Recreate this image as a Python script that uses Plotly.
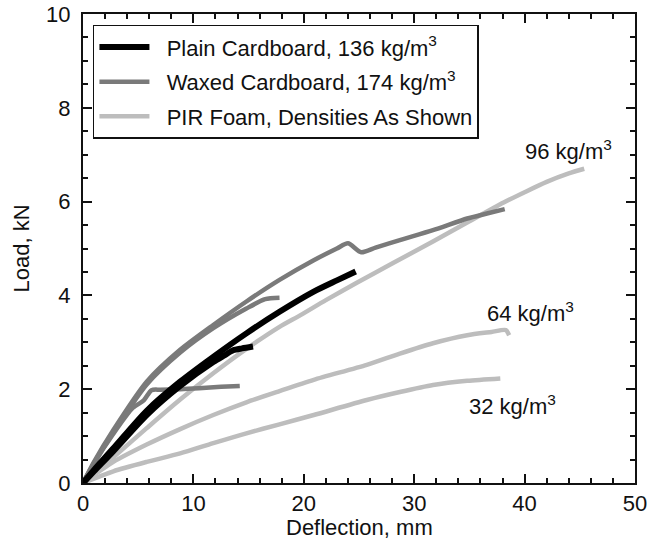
import plotly.graph_objects as go

# Load–deflection curves (deflection in mm, load in kN)
plain_a_x = [0, 1, 2.75, 5.77, 8.8, 11.8, 14.8, 17.8, 20.9, 23.0, 24.7]
plain_a_y = [0, 0.28, 0.74, 1.54, 2.16, 2.69, 3.19, 3.65, 4.08, 4.32, 4.51]
plain_b_x = [0, 1, 2.75, 5.77, 8.8, 11.8, 12.8, 13.6, 14.4, 15.4]
plain_b_y = [0, 0.25, 0.68, 1.45, 2.07, 2.58, 2.72, 2.83, 2.87, 2.91]

waxed_a_x = [0, 1, 2.75, 5.77, 8.8, 11.8, 14.8, 17.8, 20.9, 23.0, 24.0, 25.2, 26.5, 28.7, 31.7, 34.8, 36.5, 38.2]
waxed_a_y = [0, 0.45, 1.13, 2.16, 2.84, 3.37, 3.87, 4.33, 4.75, 5.0, 5.11, 4.92, 5.02, 5.18, 5.39, 5.64, 5.74, 5.84]
waxed_b_x = [0, 1, 2.75, 5.77, 8.8, 11.8, 14.8, 16.5, 17.8]
waxed_b_y = [0, 0.42, 1.08, 2.1, 2.78, 3.3, 3.72, 3.92, 3.95]
waxed_c_x = [0, 1, 2.75, 4.5, 5.5, 6.2, 7.0, 8.8, 10.5, 12.5, 14.2]
waxed_c_y = [0, 0.42, 1.05, 1.6, 1.76, 1.98, 1.99, 2.0, 2.02, 2.05, 2.07]

foam96_x = [0, 2.75, 5.77, 8.8, 11.8, 14.8, 17.8, 19.7, 22.0, 24.8, 28.0, 31.7, 35.0, 38.1, 40.0, 42.0, 44.0, 45.4]
foam96_y = [0, 0.55, 1.17, 1.78, 2.34, 2.86, 3.33, 3.58, 3.9, 4.27, 4.68, 5.15, 5.58, 5.98, 6.2, 6.42, 6.6, 6.7]
foam64_x = [0, 2.75, 5.77, 8.8, 11.8, 14.8, 17.8, 20.9, 25.7, 28.7, 31.7, 34.8, 37.0, 38.3, 38.6]
foam64_y = [0, 0.45, 0.82, 1.15, 1.45, 1.72, 1.96, 2.2, 2.52, 2.76, 2.98, 3.15, 3.22, 3.26, 3.15]
foam32_x = [0, 2.75, 5.77, 8.8, 11.8, 14.8, 17.8, 20.9, 25.7, 28.7, 31.7, 34.8, 37.8]
foam32_y = [0, 0.25, 0.45, 0.63, 0.85, 1.06, 1.25, 1.45, 1.77, 1.94, 2.09, 2.18, 2.23]

series_names = [
    "\u00a0\u00a0Plain Cardboard, 136 kg/m<sup>3</sup>",
    "\u00a0\u00a0Waxed Cardboard, 174 kg/m<sup>3</sup>",
    "\u00a0\u00a0PIR Foam, Densities As Shown",
]
series_colors = ["#000000", "#7a7a7a", "#bdbdbd"]
series_widths = [6, 4.5, 4.5]

density_labels = ["96 kg/m<sup>3</sup>", "64 kg/m<sup>3</sup>", "32 kg/m<sup>3</sup>"]
density_label_x = [44.0, 40.5, 38.9]
density_label_y = [7.1, 3.65, 1.66]

x_title = "Deflection, mm"
y_title = "Load, kN"

FONT = "Liberation Sans, Arial, Helvetica, sans-serif"
INK = "#111111"

groups = [
    (0, [(plain_a_x, plain_a_y), (plain_b_x, plain_b_y)]),
    (1, [(waxed_a_x, waxed_a_y), (waxed_b_x, waxed_b_y), (waxed_c_x, waxed_c_y)]),
    (2, [(foam96_x, foam96_y), (foam64_x, foam64_y), (foam32_x, foam32_y)]),
]

fig = go.Figure()
# foam underneath, waxed above it, plain cardboard on top
for idx, curves in reversed(groups):
    for k, (xs, ys) in enumerate(curves):
        fig.add_trace(go.Scatter(
            x=xs, y=ys, mode="lines",
            name=series_names[idx],
            legendgroup=f"g{idx}", legendrank=idx + 1,
            showlegend=(k == 0),
            line=dict(color=series_colors[idx], width=series_widths[idx],
                      shape="spline", smoothing=0.7),
        ))

for txt, lx, ly in zip(density_labels, density_label_x, density_label_y):
    fig.add_annotation(x=lx, y=ly, text=txt, showarrow=False,
                       font=dict(size=22, color=INK, family=FONT),
                       xanchor="center", yanchor="middle")

# x-axis title placed just beneath the tick labels
fig.add_annotation(x=0.5, y=-0.095, xref="paper", yref="paper", text=x_title,
                   showarrow=False, font=dict(size=22, color=INK, family=FONT),
                   xanchor="center", yanchor="middle")

axis_common = dict(
    showline=True, linecolor=INK, linewidth=2, mirror="allticks",
    ticks="inside", ticklen=9, tickwidth=1.8, tickcolor=INK,
    showgrid=False, zeroline=False,
    tickfont=dict(size=22, color=INK, family=FONT),
)

fig.update_xaxes(range=[0, 50], dtick=10, ticklabelstandoff=0,
                 minor=dict(dtick=2, ticks="inside", ticklen=5, tickwidth=1.5,
                            tickcolor=INK, showgrid=False),
                 **axis_common)
fig.update_yaxes(range=[0, 10], dtick=2, ticklabelstandoff=6,
                 minor=dict(dtick=0.5, ticks="inside", ticklen=5, tickwidth=1.5,
                            tickcolor=INK, showgrid=False),
                 title=dict(text=y_title, font=dict(size=22, color=INK, family=FONT),
                            standoff=10),
                 **axis_common)

fig.update_layout(
    width=648, height=550,
    margin=dict(l=83, r=13, t=14, b=67, autoexpand=False),
    plot_bgcolor="white", paper_bgcolor="white",
    font=dict(family=FONT, size=22, color=INK),
    legend=dict(x=0.018, y=0.977, xanchor="left", yanchor="top",
                bgcolor="white", bordercolor=INK, borderwidth=1.5,
                font=dict(size=22, color=INK, family=FONT),
                itemwidth=50, traceorder="grouped", tracegroupgap=3),
)

fig.write_html("out.html")
